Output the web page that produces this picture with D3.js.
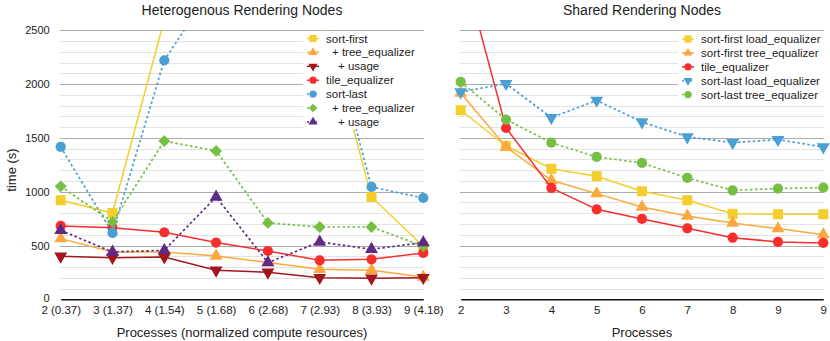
<!DOCTYPE html>
<html>
<head>
<meta charset="utf-8">
<script src="https://cdn.jsdelivr.net/npm/d3@7"></script>
<style>
  body { margin: 0; background: #fff; }
  svg { font-family: "Liberation Sans", Arial, Helvetica, sans-serif; }
</style>
</head>
<body>
<div id="chart"></div>
<script>
// tick labels
var leftLabels = ["2 (0.37)", "3 (1.37)", "4 (1.54)", "5 (1.68)", "6 (2.68)", "7 (2.93)", "8 (3.93)", "9 (4.18)"];
var rightLabels = ["2", "3", "4", "5", "6", "7", "8", "9", "9"];
var yTicks = [0, 500, 1000, 1500, 2000, 2500];

// heterogenous rendering nodes (time in s)
var sortFirst      = [920, 802, 2600, 3000, 3000, 2760, 951, 493];
var sortFirstTree  = [564, 440, 440, 403, 341, 279, 270, 208];
var sortFirstUsage = [400, 387, 393, 270, 251, 201, 195, 201];
var tileEq         = [682, 666, 623, 527, 449, 362, 372, 431];
var sortLast       = [1416, 617, 2221, 2950, 2950, 2850, 1044, 942];
var sortLastTree   = [1050, 720, 1471, 1379, 710, 672, 672, 493];
var sortLastUsage  = [641, 440, 455, 951, 341, 533, 465, 527];

// shared rendering nodes (time in s)
var sfLoad = [1757, 1425, 1214, 1143, 1004, 920, 796, 790, 790];
var sfTree = [1918, 1416, 1106, 982, 858, 775, 709, 657, 601];
var tile   = [3170, 1592, 1035, 836, 747, 660, 573, 533, 524];
var slLoad = [1927, 2004, 1688, 1849, 1648, 1509, 1456, 1484, 1416];
var slTree = [2020, 1670, 1456, 1323, 1267, 1128, 1013, 1029, 1038];

var W = 830, H = 341;
var yTop = 30.3, yBot = 299.3;

var svg = d3.select("#chart").append("svg")
    .attr("width", W).attr("height", H);

var y = d3.scaleLinear().domain([0, 2500]).range([yBot, yTop]);

var sym = {
  square:  {type: d3.symbolSquare, size: 100, rot: 0},
  circle:  {type: d3.symbolCircle, size: 82, rot: 0},
  tri:     {type: d3.symbolTriangle, size: 72, rot: 0},
  triDown: {type: d3.symbolTriangle, size: 72, rot: 180},
  diamond: {type: d3.symbolSquare, size: 70, rot: 45}
};

var leftSeries = [
  {name: "sort-first", values: sortFirst, color: "#f4ce2c", sym: "square", dash: false, indent: 0},
  {name: "+ tree_equalizer", values: sortFirstTree, color: "#fda83e", sym: "tri", dash: false, indent: 6},
  {name: "+ usage", values: sortFirstUsage, color: "#a2171e", sym: "triDown", dash: false, indent: 12},
  {name: "tile_equalizer", values: tileEq, color: "#fa2d2d", sym: "circle", dash: false, indent: 0},
  {name: "sort-last", values: sortLast, color: "#4a9fd4", sym: "circle", dash: true, indent: 0},
  {name: "+ tree_equalizer", values: sortLastTree, color: "#75bf42", sym: "diamond", dash: true, indent: 6},
  {name: "+ usage", values: sortLastUsage, color: "#5f2a86", sym: "tri", dash: true, indent: 12}
];

var rightSeries = [
  {name: "sort-first load_equalizer", values: sfLoad, color: "#f4ce2c", sym: "square", dash: false, indent: 0},
  {name: "sort-first tree_equalizer", values: sfTree, color: "#fda83e", sym: "tri", dash: false, indent: 0},
  {name: "tile_equalizer", values: tile, color: "#fa2d2d", sym: "circle", dash: false, indent: 0},
  {name: "sort-last load_equalizer", values: slLoad, color: "#4a9fd4", sym: "triDown", dash: true, indent: 0},
  {name: "sort-last tree_equalizer", values: slTree, color: "#75bf42", sym: "circle", dash: true, indent: 0}
];

function symPath(key, scale) {
  var s = sym[key];
  return d3.symbol().type(s.type).size(s.size * (scale || 1))();
}

function drawPanel(opts) {
  var x = d3.scalePoint()
    .domain(d3.range(opts.labels.length))
    .range([opts.x0, opts.x1]);

  var g = svg.append("g");

  // gridlines, every 100, darker every 500
  g.selectAll("line.grid")
    .data(d3.range(100, 2501, 100))
    .join("line")
      .attr("x1", opts.x0 - 1).attr("x2", opts.x1 + 1)
      .attr("y1", d => Math.round(y(d)) + 0.5)
      .attr("y2", d => Math.round(y(d)) + 0.5)
      .attr("stroke", d => d % 500 === 0 ? "#ababab" : "#e3e3e3")
      .attr("stroke-width", 1);

  // y labels
  if (opts.yAxis) {
    var ya = g.append("g")
      .attr("transform", "translate(" + (opts.x0) + ",0)")
      .call(d3.axisLeft(y).tickValues(yTicks).tickSize(0).tickPadding(11)
        .tickFormat(d3.format("d")));
    ya.select(".domain").remove();
    ya.selectAll("text").attr("font-size", 11).attr("fill", "#222")
      .attr("font-family", "Liberation Sans, Arial, sans-serif");
    ya.selectAll(".tick").filter(d => d === 0).select("text").attr("y", -1.5);

    g.append("text")
      .attr("transform", "translate(16,170) rotate(-90)")
      .attr("text-anchor", "middle")
      .attr("font-size", 13)
      .attr("fill", "#222")
      .text("time (s)");
  }

  // x axis
  var xa = g.append("g")
    .attr("transform", "translate(0," + yBot + ")")
    .call(d3.axisBottom(x).tickSize(0).tickPadding(6.5)
      .tickFormat(i => opts.labels[i]));
  xa.select(".domain").attr("stroke", "#111").attr("stroke-width", 1.6);
  xa.selectAll("text").attr("font-size", 11.5).attr("fill", "#222")
    .attr("font-family", "Liberation Sans, Arial, sans-serif");

  // titles
  g.append("text")
    .attr("x", (opts.x0 + opts.x1) / 2).attr("y", 15)
    .attr("text-anchor", "middle")
    .attr("font-size", 14).attr("fill", "#222")
    .text(opts.title);
  g.append("text")
    .attr("x", (opts.x0 + opts.x1) / 2).attr("y", 337)
    .attr("text-anchor", "middle")
    .attr("font-size", 13).attr("fill", "#222")
    .text(opts.xTitle);

  // clip to plot area
  var clipId = "clip" + opts.id;
  svg.append("clipPath").attr("id", clipId)
    .append("rect")
      .attr("x", opts.x0 - 10).attr("y", yTop)
      .attr("width", opts.x1 - opts.x0 + 20).attr("height", yBot - yTop + 10);

  var plot = g.append("g").attr("clip-path", "url(#" + clipId + ")");

  var line = d3.line()
    .x((d, i) => x(i))
    .y(d => y(d));

  opts.series.forEach(function(s) {
    plot.append("path")
      .datum(s.values)
      .attr("fill", "none")
      .attr("stroke", s.color)
      .attr("stroke-width", s.dash ? 1.7 : 1.5)
      .attr("stroke-dasharray", s.dash ? "2.5,2.5" : null)
      .attr("d", line);

    plot.selectAll(null)
      .data(s.values)
      .join("path")
        .attr("transform", (d, i) => "translate(" + x(i) + "," + y(d) + ") rotate(" + sym[s.sym].rot + ")")
        .attr("fill", s.color)
        .attr("d", symPath(s.sym));
  });

  // legend
  var lg = g.append("g");
  lg.append("rect")
    .attr("x", opts.legend.x - 10).attr("y", yTop + 1)
    .attr("width", opts.legend.w).attr("height", opts.legend.h)
    .attr("fill", "#fff");

  var rows = lg.selectAll("g.row")
    .data(opts.series)
    .join("g")
      .attr("transform", (d, i) => "translate(" + opts.legend.x + "," + (opts.legend.y + i * 13.9) + ")");

  rows.append("line")
    .attr("x1", -6).attr("x2", 6)
    .attr("stroke", d => d.color)
    .attr("stroke-width", 1.5)
    .attr("stroke-dasharray", d => d.dash ? "2,2" : null);
  rows.append("path")
    .attr("transform", d => "rotate(" + sym[d.sym].rot + ")")
    .attr("fill", d => d.color)
    .attr("d", d => symPath(d.sym, 0.5));
  rows.append("text")
    .attr("x", d => 13 + d.indent)
    .attr("dy", "0.35em")
    .attr("font-size", 11.5)
    .attr("fill", "#222")
    .text(d => d.name);
}

drawPanel({
  id: "L", x0: 60.7, x1: 423.3, labels: leftLabels, series: leftSeries, yAxis: true,
  title: "Heterogenous Rendering Nodes",
  xTitle: "Processes (normalized compute resources)",
  legend: {x: 313, y: 38.5, w: 122, h: 98}
});

drawPanel({
  id: "R", x0: 460.7, x1: 823.3, labels: rightLabels, series: rightSeries, yAxis: false,
  title: "Shared Rendering Nodes",
  xTitle: "Processes",
  legend: {x: 688, y: 39, w: 150, h: 70}
});
</script>
</body>
</html>
